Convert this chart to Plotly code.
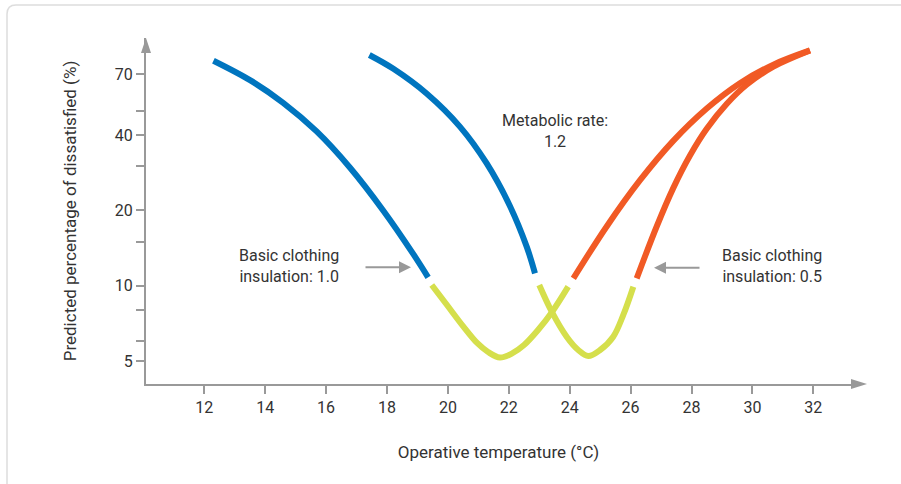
import plotly.graph_objects as go

# ---- data ----
blue_a_t = [12.30, 13.50, 14.59, 15.69, 16.78, 17.88, 18.86, 19.35]
blue_a_p = [79.4, 66.4, 53.9, 41.4, 29.7, 19.95, 13.4, 10.8]

yellow_a_t = [19.47, 19.97, 20.51, 20.96, 21.32, 21.71, 22.11, 22.50, 22.96, 23.42, 23.95]
yellow_a_p = [10.06, 8.37, 6.86, 5.90, 5.43, 5.16, 5.36, 5.79, 6.65, 7.85, 9.91]

orange_a_t = [24.12, 25.22, 26.31, 27.40, 28.50, 29.59, 30.69, 31.89]
orange_a_p = [10.70, 17.30, 26.42, 37.96, 51.15, 64.57, 76.62, 87.3]

blue_b_t = [17.42, 18.21, 19.30, 20.40, 21.27, 22.04, 22.59, 22.86]
blue_b_p = [83.7, 73.7, 58.7, 43.2, 30.9, 20.8, 14.3, 11.2]

yellow_b_t = [23.00, 23.41, 23.90, 24.28, 24.61, 25.00, 25.43, 25.76, 26.09]
yellow_b_p = [10.06, 7.87, 6.25, 5.53, 5.23, 5.53, 6.25, 7.64, 9.91]

orange_b_t = [26.20, 26.86, 27.40, 27.95, 28.50, 29.16, 29.81, 30.69, 31.89]
orange_b_p = [10.70, 17.29, 24.57, 33.18, 42.43, 53.42, 63.63, 75.16, 87.3]

x_ticks = [12, 14, 16, 18, 20, 22, 24, 26, 28, 30, 32]
y_ticks = [5, 6, 8, 10, 15, 20, 30, 40, 50, 70]
y_tick_text = ["5", "", "", "10", "", "20", "", "40", "", "70"]

BLUE = "#0075bf"
YELLOW = "#d5df4c"
ORANGE = "#f15a25"
GRAY = "#999999"
TEXT = "#333333"
FONT = "Roboto"

W, H = 901, 484
ML, MR, MT, MB = 146, 50, 38, 100
PW, PH = W - ML - MR, H - MT - MB


def px(xp):
    return (xp - ML) / PW


def py(yp):
    return (H - MB - yp) / PH


def tx(xp):
    return 12 + (xp - 204.3) / 30.45


def ly(yp):
    return 1 + (285.7 - yp) / 250


fig = go.Figure()
segs = [
    (blue_a_t, blue_a_p, BLUE), (yellow_a_t, yellow_a_p, YELLOW), (orange_a_t, orange_a_p, ORANGE),
    (blue_b_t, blue_b_p, BLUE), (yellow_b_t, yellow_b_p, YELLOW), (orange_b_t, orange_b_p, ORANGE),
]
for t, p, c in segs:
    fig.add_trace(go.Scatter(x=t, y=p, mode="lines",
                             line=dict(color=c, width=6, shape="spline", smoothing=1.0),
                             hoverinfo="skip", showlegend=False))

fig.update_layout(
    width=W, height=H,
    margin=dict(l=ML, r=MR, t=MT, b=MB),
    paper_bgcolor="white", plot_bgcolor="white",
    font=dict(family=FONT, size=16, color=TEXT),
    xaxis=dict(range=[tx(ML), tx(W - MR)],
               tickvals=x_ticks, ticks="outside", ticklen=8, tickwidth=2, tickcolor=GRAY,
               showline=True, linecolor=GRAY, linewidth=2, showgrid=False, zeroline=False,
               title=dict(text="Operative temperature (°C)", standoff=30, font=dict(size=17)),
               tickfont=dict(size=16, color=TEXT)),
    yaxis=dict(type="log", range=[ly(H - MB), ly(MT)],
               tickvals=y_ticks, ticktext=y_tick_text, ticks="outside", ticklen=8, tickwidth=2,
               tickcolor=GRAY, showline=True, linecolor=GRAY, linewidth=2, showgrid=False,
               zeroline=False,
               title=dict(text="Predicted percentage of dissatisfied (%)", standoff=34,
                          font=dict(size=17)),
               tickfont=dict(size=16, color=TEXT)),
)

# axis arrowheads
fig.add_shape(type="path", xref="paper", yref="paper",
              path=f"M {px(141)},{py(53)} L {px(146)},{py(38)} L {px(151)},{py(53)} Z",
              fillcolor=GRAY, line=dict(width=0))
fig.add_shape(type="path", xref="paper", yref="paper",
              path=f"M {px(851)},{py(379)} L {px(867)},{py(384)} L {px(851)},{py(389)} Z",
              fillcolor=GRAY, line=dict(width=0))

# rounded border
fig.add_shape(type="path", xref="paper", yref="paper",
              path=(f"M {px(7)},{py(490)} L {px(7)},{py(14)} Q {px(7)},{py(5)} {px(16)},{py(5)} "
                    f"L {px(910)},{py(5)}"),
              line=dict(color="#dddddd", width=1.5))

# annotations
fig.add_annotation(x=tx(555), y=ly(131), xref="x", yref="y",
                   text="Metabolic rate:<br>1.2", showarrow=False, font=dict(size=16, color=TEXT))
fig.add_annotation(x=tx(289), y=ly(266), xref="x", yref="y",
                   text="Basic clothing<br>insulation: 1.0", showarrow=False,
                   font=dict(size=16, color=TEXT))
fig.add_annotation(x=tx(772), y=ly(266), xref="x", yref="y",
                   text="Basic clothing<br>insulation: 0.5", showarrow=False,
                   font=dict(size=16, color=TEXT))
fig.add_annotation(x=tx(411), y=ly(267.3), xref="x", yref="y",
                   ax=-47, ay=0, text="", showarrow=True, arrowhead=2, arrowsize=1.2, arrowwidth=2,
                   arrowcolor=GRAY)
fig.add_annotation(x=tx(654), y=ly(267.7), xref="x", yref="y",
                   ax=47, ay=0, text="", showarrow=True, arrowhead=2, arrowsize=1.2, arrowwidth=2,
                   arrowcolor=GRAY)

fig.write_html("out.html", config={"displayModeBar": False},
               post_script="document.body.style.margin='0';")
